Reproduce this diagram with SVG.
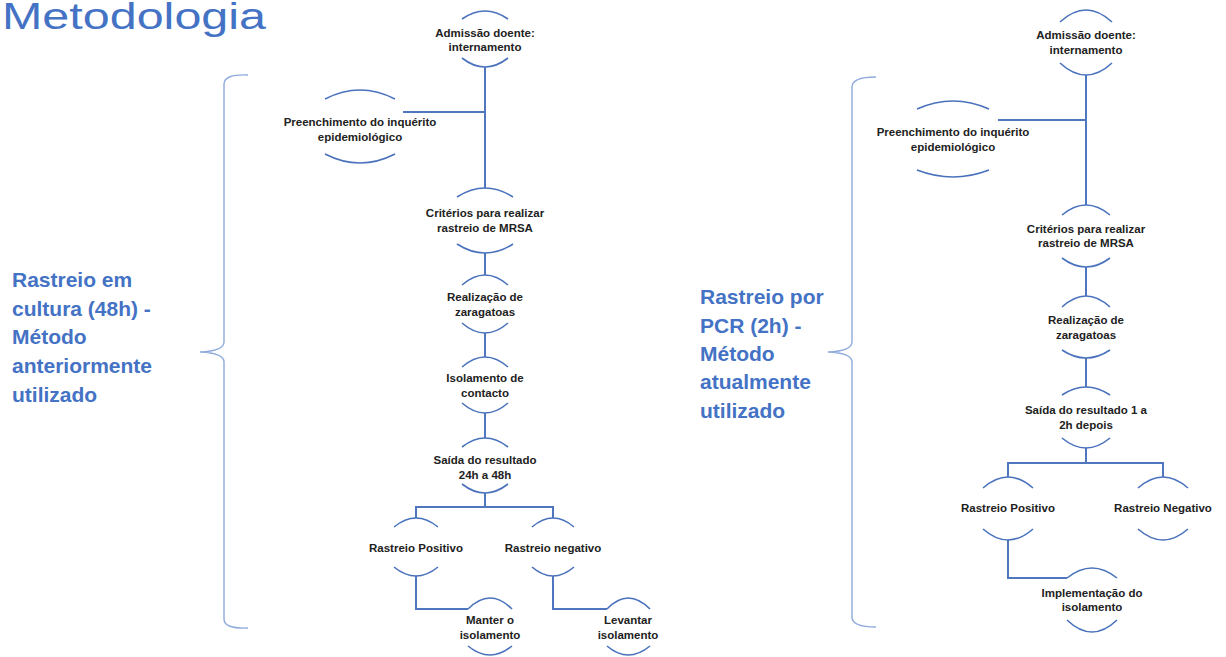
<svg xmlns="http://www.w3.org/2000/svg" width="1226" height="657" viewBox="0 0 1226 657">
<style>
.arc{fill:none;stroke:#4A72BC;stroke-width:1.6}
.con{fill:none;stroke:#4F77C0;stroke-width:2}
.brace{fill:none;stroke:#8FAADC;stroke-width:1.4}
.t{font-family:"Liberation Sans",Arial,sans-serif;font-weight:bold;font-size:11.5px;fill:#222;text-anchor:middle}
.lbl{font-family:"Liberation Sans",Arial,sans-serif;font-weight:bold;font-size:21px;fill:#4472C4}
.title{font-family:"Liberation Sans",Arial,sans-serif;font-size:36px;fill:#4472C4}
</style>
<rect width="1226" height="657" fill="#fff"/>
<text class="title" x="2" y="29" textLength="264" lengthAdjust="spacingAndGlyphs">Metodologia</text>

<g id="label-left">
<text class="lbl" x="12" y="287">Rastreio em</text>
<text class="lbl" x="12" y="316">cultura (48h) -</text>
<text class="lbl" x="12" y="344">Método</text>
<text class="lbl" x="12" y="373">anteriormente</text>
<text class="lbl" x="12" y="402">utilizado</text>
</g>
<g id="label-right">
<text class="lbl" x="700" y="304">Rastreio por</text>
<text class="lbl" x="700" y="333">PCR (2h) -</text>
<text class="lbl" x="700" y="361">Método</text>
<text class="lbl" x="700" y="389">atualmente</text>
<text class="lbl" x="700" y="418">utilizado</text>
</g>
<g id="braces">
<path class="brace" d="M 248 75 Q 224 74 224 84 L 224 342 Q 224 351 200 352 Q 224 353 224 362 L 224 619 Q 224 629 248 628"/>
<path class="brace" d="M 876 77 Q 852 77 852 87 L 852 342 Q 852 351 828 352 Q 852 353 852 362 L 852 617 Q 852 627 876 627"/>
</g>

<g id="connectors">
<path class="con" d="M 485 67 V 188 M 403 112 H 485 M 485 253 V 275 M 485 333 V 357 M 485 413 V 438 M 485 493 V 507 M 416 518 V 507 H 553 V 518 M 416 576 V 609 H 468 M 553 576 V 609 H 607"/>
<path class="con" d="M 1086 75 V 205 M 998 120 H 1086 M 1086 267 V 296 M 1086 358 V 387 M 1086 448 V 463 M 1008 477 V 463 H 1163 V 477 M 1008 540 V 578 H 1067"/>
</g>

<g id="n-admissao-l">
<path class="arc" d="M 462 19 Q 485 3 508 19 M 462 58 Q 485 76 508 58"/>
<text class="t" x="485" y="37">Admissão doente:</text>
<text class="t" x="485" y="51">internamento</text>
</g>
<g id="n-preench-l">
<path class="arc" d="M 325 99 Q 360 81 395 99 M 325 154 Q 360 172 395 154"/>
<text class="t" x="360" y="126">Preenchimento do inquérito</text>
<text class="t" x="360" y="141">epidemiológico</text>
</g>
<g id="n-criterios-l">
<path class="arc" d="M 457 197 Q 485 179 513 197 M 457 244 Q 485 262 513 244"/>
<text class="t" x="485" y="217">Critérios para realizar</text>
<text class="t" x="485" y="232">rastreio de MRSA</text>
</g>
<g id="n-realizacao-l">
<path class="arc" d="M 462 285 Q 485 265 508 285 M 462 323 Q 485 343 508 323"/>
<text class="t" x="485" y="301">Realização de</text>
<text class="t" x="485" y="316">zaragatoas</text>
</g>
<g id="n-isolamento-l">
<path class="arc" d="M 462 367 Q 485 347 508 367 M 462 403 Q 485 423 508 403"/>
<text class="t" x="485" y="382">Isolamento de</text>
<text class="t" x="485" y="397">contacto</text>
</g>
<g id="n-saida-l">
<path class="arc" d="M 462 447 Q 485 429 508 447 M 462 484 Q 485 502 508 484"/>
<text class="t" x="485" y="464">Saída do resultado</text>
<text class="t" x="485" y="479">24h a 48h</text>
</g>
<g id="n-positivo-l">
<path class="arc" d="M 394 527 Q 416 509 438 527 M 394 567 Q 416 585 438 567"/>
<text class="t" x="416" y="552">Rastreio Positivo</text>
</g>
<g id="n-negativo-l">
<path class="arc" d="M 532 527 Q 553 509 574 527 M 532 567 Q 553 585 574 567"/>
<text class="t" x="553" y="552">Rastreio negativo</text>
</g>
<g id="n-manter-l">
<path class="arc" d="M 468 609 Q 490 587 512 609 M 468 646 Q 490 664 512 646"/>
<text class="t" x="490" y="624">Manter o</text>
<text class="t" x="490" y="639">isolamento</text>
</g>
<g id="n-levantar-l">
<path class="arc" d="M 607 609 Q 628 587 650 609 M 607 646 Q 628 664 650 646"/>
<text class="t" x="628" y="624">Levantar</text>
<text class="t" x="628" y="639">isolamento</text>
</g>

<g id="n-admissao-r">
<path class="arc" d="M 1060 22 Q 1086 -2 1112 22 M 1060 63 Q 1086 87 1112 63"/>
<text class="t" x="1086" y="39">Admissão doente:</text>
<text class="t" x="1086" y="54">internamento</text>
</g>
<g id="n-preench-r">
<path class="arc" d="M 917 109 Q 953 93 989 109 M 917 170 Q 953 184 989 170"/>
<text class="t" x="953" y="136">Preenchimento do inquérito</text>
<text class="t" x="953" y="151">epidemiológico</text>
</g>
<g id="n-criterios-r">
<path class="arc" d="M 1062 215 Q 1086 195 1110 215 M 1062 258 Q 1086 276 1110 258"/>
<text class="t" x="1086" y="233">Critérios para realizar</text>
<text class="t" x="1086" y="247">rastreio de MRSA</text>
</g>
<g id="n-realizacao-r">
<path class="arc" d="M 1062 307 Q 1086 285 1110 307 M 1062 350 Q 1086 366 1110 350"/>
<text class="t" x="1086" y="324">Realização de</text>
<text class="t" x="1086" y="339">zaragatoas</text>
</g>
<g id="n-saida-r">
<path class="arc" d="M 1062 395 Q 1086 379 1110 395 M 1062 438 Q 1086 458 1110 438"/>
<text class="t" x="1086" y="414">Saída do resultado 1 a</text>
<text class="t" x="1086" y="429">2h depois</text>
</g>
<g id="n-positivo-r">
<path class="arc" d="M 983 488 Q 1008 466 1033 488 M 983 529 Q 1008 551 1033 529"/>
<text class="t" x="1008" y="512">Rastreio Positivo</text>
</g>
<g id="n-negativo-r">
<path class="arc" d="M 1138 488 Q 1163 466 1188 488 M 1138 529 Q 1163 551 1188 529"/>
<text class="t" x="1163" y="512">Rastreio Negativo</text>
</g>
<g id="n-implementacao-r">
<path class="arc" d="M 1067 578 Q 1092 558 1117 578 M 1067 620 Q 1092 644 1117 620"/>
<text class="t" x="1092" y="597">Implementação do</text>
<text class="t" x="1092" y="611">isolamento</text>
</g>
</svg>
